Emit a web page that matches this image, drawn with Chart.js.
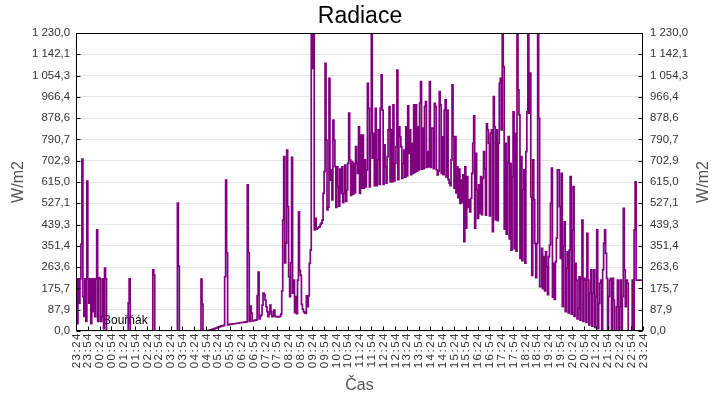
<!DOCTYPE html>
<html>
<head>
<meta charset="utf-8">
<script src="https://cdn.jsdelivr.net/npm/chart.js@4/dist/chart.umd.min.js"></script>
<style>
  html, body { margin: 0; padding: 0; background: #fff; }
  #c { display: block; }
</style>
</head>
<body>
<canvas id="c" width="720" height="400"></canvas>
<script>
// ---- data ----
const TITLE = 'Radiace';
const SERIES_NAME = 'Bouřňák';
const X_TITLE = 'Čas';
const Y_TITLE = 'W/m2';
const STEP_MIN = 2.5;        // one reading every 2.5 minutes, starting 23:24
const Y_MAX = 1230;

const timeLabels = ['23:24','23:54','00:24','00:54','01:24','01:54','02:24','02:54','03:24','03:54',
  '04:24','04:54','05:24','05:54','06:24','06:54','07:24','07:54','08:24','08:54','09:24','09:54',
  '10:24','10:54','11:24','11:54','12:24','12:54','13:24','13:54','14:24','14:54','15:24','15:54',
  '16:24','16:54','17:24','17:54','18:24','18:54','19:24','19:54','20:24','20:54','21:24','21:54',
  '22:24','22:54','23:24'];

const yTickLabels = ['0,0','87,9','175,7','263,6','351,4','439,3','527,1','615,0','702,9','790,7',
  '878,6','966,4','1 054,3','1 142,1','1 230,0'];

const radiation = [
  215, 30, 215, 115, 215, 358, 710, 142, 60, 215,
  40, 619, 215, 115, 215, 30, 215, 80, 215, 59,
  215, 417, 40, 220, 215, 40, 60, 215, 10, 260,
  215, 0, 0, 0, 0, 0, 0, 0, 0, 0,
  0, 0, 0, 0, 0, 0, 0, 0, 0, 0,
  0, 0, 0, 116, 215, 0, 0, 0, 0, 0,
  0, 0, 0, 0, 0, 0, 0, 0, 0, 0,
  0, 0, 0, 0, 0, 0, 0, 0, 252, 231,
  0, 0, 0, 0, 0, 0, 0, 0, 0, 0,
  0, 0, 0, 0, 0, 0, 0, 0, 0, 0,
  0, 0, 0, 528, 268, 0, 0, 0, 0, 0,
  0, 0, 0, 0, 0, 0, 0, 0, 0, 0,
  0, 0, 0, 0, 0, 0, 0, 214, 111, 0,
  0, 0, 0, 0, 2, 3, 4, 5, 6, 8,
  9, 11, 12, 14, 15, 17, 18, 20, 21, 22,
  23, 224, 623, 322, 25, 26, 27, 28, 28, 29,
  30, 30, 31, 32, 32, 33, 34, 34, 35, 36,
  36, 37, 37, 38, 603, 323, 40, 103, 74, 42,
  43, 44, 45, 46, 146, 243, 50, 60, 66, 107,
  156, 150, 128, 100, 80, 59, 70, 107, 80, 59,
  62, 86, 60, 59, 58, 58, 59, 60, 70, 165,
  458, 720, 281, 363, 747, 513, 224, 142, 281, 717,
  156, 210, 76, 142, 72, 210, 492, 250, 230, 110,
  90, 80, 76, 73, 145, 100, 145, 279, 334, 1240,
  1084, 1240, 417, 465, 420, 424, 428, 430, 440, 445,
  458, 568, 658, 1105, 788, 500, 511, 1043, 623, 665,
  541, 871, 788, 678, 510, 678, 596, 515, 668, 568,
  678, 530, 568, 685, 535, 582, 692, 899, 706, 560,
  699, 565, 692, 570, 761, 692, 651, 843, 568, 809,
  590, 809, 590, 706, 595, 665, 1022, 919, 595, 816,
  1240, 713, 816, 600, 919, 600, 706, 830, 605, 919,
  1057, 912, 605, 768, 678, 610, 720, 830, 926, 615,
  830, 615, 933, 620, 692, 761, 1077, 625, 843, 801,
  761, 630, 692, 747, 635, 843, 640, 929, 733, 830,
  645, 775, 650, 933, 655, 933, 660, 843, 665, 940,
  1029, 668, 837, 670, 926, 947, 675, 740, 678, 1029,
  675, 837, 837, 670, 940, 926, 665, 644, 660, 988,
  933, 650, 801, 645, 912, 954, 635, 912, 625, 610,
  600, 706, 1016, 802, 590, 802, 570, 678, 550, 668,
  527, 623, 530, 644, 369, 678, 424, 637, 510, 541,
  492, 548, 651, 775, 888, 424, 733, 582, 465, 603,
  485, 637, 480, 630, 740, 668, 478, 855, 830, 775,
  475, 816, 830, 410, 967, 843, 460, 830, 455, 775,
  1022, 1043, 830, 1240, 1091, 420, 775, 400, 692, 802,
  380, 692, 334, 637, 905, 340, 816, 330, 1240, 995,
  892, 300, 720, 290, 582, 665, 280, 740, 905, 1240,
  899, 1064, 554, 230, 706, 541, 362, 220, 362, 1240,
  878, 183, 183, 341, 175, 307, 165, 327, 265, 150,
  307, 355, 527, 672, 140, 279, 130, 286, 383, 665,
  665, 513, 300, 651, 100, 348, 451, 80, 259, 327,
  75, 334, 637, 70, 417, 596, 60, 279, 210, 50,
  94, 224, 45, 217, 458, 40, 217, 210, 35, 403,
  210, 25, 155, 252, 20, 155, 252, 15, 142, 417,
  10, 114, 197, 210, 5, 252, 362, 417, 321, 217,
  0, 142, 210, 217, 0, 217, 128, 0, 0, 100,
  210, 0, 100, 210, 0, 142, 506, 252, 100, 210,
  197, 0, 0, 0, 0, 210, 0, 417, 616, 210,
  210, 210, 210, 210, 210, 210, 210
];

// ---- chart ----
const FONT = '"Liberation Sans", Arial, sans-serif';
const points = radiation.map((v, i) => ({ x: i * STEP_MIN, y: v }));

const framePlugin = {
  id: 'frame',
  beforeDatasetsDraw(chart) {
    const { ctx, chartArea: a } = chart;
    ctx.save();
    ctx.font = '12px ' + FONT;
    ctx.fillStyle = '#000';
    ctx.textBaseline = 'alphabetic';
    ctx.textAlign = 'left';
    ctx.fillText(SERIES_NAME, a.left + 27, a.bottom - 7);
    ctx.restore();
  },
  afterDraw(chart) {
    const { ctx, chartArea: a, scales } = chart;
    ctx.save();
    ctx.strokeStyle = '#000';
    ctx.lineWidth = 1;
    const L = Math.round(a.left) + 0.5, R = Math.round(a.right) - 0.5;
    const T = Math.round(a.top) + 0.5, B = Math.round(a.bottom) - 0.5;
    ctx.strokeRect(L, T, R - L, B - T);
    ctx.beginPath();
    scales.y.ticks.forEach(t => {
      const y = Math.round(scales.y.getPixelForValue(t.value)) + 0.5;
      ctx.moveTo(L, y); ctx.lineTo(L + 4, y);
      ctx.moveTo(R - 4, y); ctx.lineTo(R, y);
    });
    scales.x.ticks.forEach(t => {
      const x = Math.round(scales.x.getPixelForValue(t.value)) + 0.5;
      ctx.moveTo(x, B - 4); ctx.lineTo(x, B);
    });
    ctx.stroke();
    // x tick labels, rotated, reading bottom-to-top
    const LS = 1.5;
    ctx.font = '11.5px ' + FONT;
    ctx.fillStyle = '#333';
    ctx.textAlign = 'right';
    ctx.textBaseline = 'middle';
    if ('letterSpacing' in ctx) ctx.letterSpacing = LS + 'px';
    scales.x.ticks.forEach((t, k) => {
      const x = scales.x.getPixelForValue(t.value);
      ctx.save();
      ctx.translate(x + 0.5, a.bottom + 2.5);
      ctx.rotate(-Math.PI / 2);
      ctx.fillText(timeLabels[k], LS, 0);
      ctx.restore();
    });
    if ('letterSpacing' in ctx) ctx.letterSpacing = '0px';
    // right axis title (reads bottom-to-top like the left one)
    ctx.translate(704, (a.top + a.bottom) / 2);
    ctx.rotate(-Math.PI / 2);
    ctx.textAlign = 'center';
    ctx.textBaseline = 'middle';
    ctx.font = '16px ' + FONT;
    ctx.fillStyle = '#555';
    ctx.fillText(Y_TITLE, 0, 0);
    ctx.restore();
  }
};

const yTicksBuild = s => { s.ticks = yTickLabels.map((_, k) => ({ value: k * Y_MAX / (yTickLabels.length - 1) })); };

new Chart(document.getElementById('c'), {
  type: 'line',
  data: {
    datasets: [{
      label: SERIES_NAME,
      data: points,
      borderColor: '#800080',
      backgroundColor: '#800080',
      borderWidth: 1.7,
      pointRadius: 0,
      stepped: true,
      fill: false,
      yAxisID: 'y'
    }]
  },
  options: {
    responsive: false,
    animation: false,
    devicePixelRatio: 1,
    layout: { padding: 0 },
    plugins: {
      legend: { display: false },
      tooltip: { enabled: false },
      title: {
        display: true,
        text: TITLE,
        color: '#000',
        font: { family: FONT, size: 23, weight: 'normal', lineHeight: 1.2 },
        padding: { top: 3, bottom: 2.4 }
      }
    },
    scales: {
      x: {
        type: 'linear',
        min: 0,
        max: 1440,
        afterBuildTicks: s => { s.ticks = timeLabels.map((_, k) => ({ value: k * 30 })); },
        afterFit: s => { s.height = 69; },
        ticks: { display: false, autoSkip: false },
        grid: { display: false, drawTicks: false },
        border: { display: false },
        title: {
          display: true,
          text: X_TITLE,
          color: '#555',
          font: { family: FONT, size: 16 },
          padding: { top: 0, bottom: 5 }
        }
      },
      y: {
        position: 'left',
        min: 0,
        max: Y_MAX,
        afterBuildTicks: yTicksBuild,
        afterFit: s => { s.width = 76; },
        ticks: {
          autoSkip: false,
          padding: 6,
          color: '#333',
          font: { family: FONT, size: 11.4 },
          callback: (v, i) => yTickLabels[i]
        },
        grid: { color: '#e6e6e6', drawTicks: false },
        border: { display: false },
        title: {
          display: true,
          text: Y_TITLE,
          color: '#555',
          font: { family: FONT, size: 16 },
          padding: { top: 9, bottom: 0 }
        }
      },
      y2: {
        position: 'right',
        min: 0,
        max: Y_MAX,
        afterBuildTicks: yTicksBuild,
        afterFit: s => { s.width = 77; },
        ticks: {
          autoSkip: false,
          padding: 7,
          color: '#333',
          font: { family: FONT, size: 11.4 },
          callback: (v, i) => yTickLabels[i]
        },
        grid: { display: false, drawTicks: false },
        border: { display: false }
      }
    }
  },
  plugins: [framePlugin]
});
</script>
</body>
</html>
